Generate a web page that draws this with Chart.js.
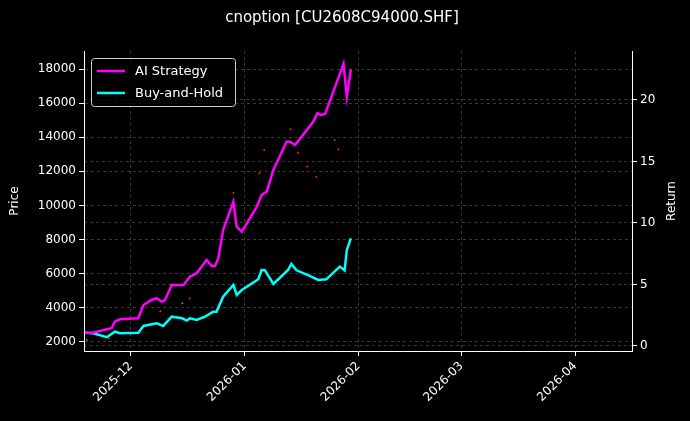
<!DOCTYPE html>
<html>
<head>
<meta charset="utf-8">
<script src="https://cdn.jsdelivr.net/npm/chart.js@4"></script>
<style>
html, body { margin: 0; padding: 0; background: #000; }
#wrap { width: 690px; height: 421px; }
</style>
</head>
<body>
<div id="wrap"><canvas id="graphe"></canvas></div>
<script>
// x = jours depuis 2025-12-01
const monthTicks = [0, 31, 62, 90, 121];
const monthLabels = ['2025-12', '2026-01', '2026-02', '2026-03', '2026-04'];

const aiDays = [-12.5, -10.3, -6.6, -5.3, -4.4, -3.0, 2.0, 3.4, 5.6, 7.0, 8.4, 9.3, 11.1, 14.3, 16.1, 17.9, 20.6, 22.0, 22.9, 23.8, 25.1, 27.9, 28.8, 30.2, 34.3, 35.6, 37.0, 38.8, 42.4, 43.3, 44.7, 49.7, 50.8, 51.7, 52.9, 57.9, 58.8, 59.9];
const aiReturn = [1.08, 1.08, 1.36, 1.44, 1.98, 2.17, 2.25, 3.33, 3.74, 3.88, 3.60, 3.74, 4.96, 4.96, 5.64, 5.91, 6.99, 6.50, 6.50, 7.13, 9.43, 11.73, 9.70, 9.29, 11.33, 12.28, 12.55, 14.31, 16.61, 16.61, 16.34, 18.24, 18.92, 18.78, 18.86, 22.93, 20.27, 22.5];

const bhDays = [-12.5, -10.3, -6.6, -4.4, -3.0, 2.0, 3.4, 7.0, 8.8, 11.1, 13.9, 15.2, 16.1, 17.9, 20.2, 22.4, 23.3, 25.1, 27.9, 28.8, 30.2, 34.7, 35.6, 36.5, 38.8, 42.8, 43.7, 45.1, 48.7, 51.0, 53.2, 56.9, 58.2, 58.8, 59.9];
const bhReturn = [1.08, 1.03, 0.71, 1.16, 1.03, 1.08, 1.63, 1.84, 1.63, 2.38, 2.25, 2.06, 2.25, 2.11, 2.38, 2.79, 2.79, 4.01, 4.96, 4.15, 4.55, 5.42, 6.18, 6.15, 5.04, 6.18, 6.67, 6.15, 5.69, 5.37, 5.42, 6.45, 6.15, 7.80, 8.75];

const priceDays = [-12.0, -6.0, 8.0, 14.0, 16.0, 27.9, 35.0, 36.3, 43.5, 45.5, 48.0, 50.5, 55.5, 56.5];
const priceValues = [2120, 2220, 3800, 4270, 4550, 10750, 11890, 13250, 14470, 13090, 12280, 11690, 13840, 13300];
const priceColors = ['#ff2020', '#ff2020', '#ff2020', '#20c040', '#ff2020', '#ff2020', '#ff2020', '#ff2020', '#ff2020', '#ff2020', '#ff2020', '#ff2020', '#ff2020', '#ff2020'];

const pts = (xs, ys) => xs.map((x, i) => ({ x: x, y: ys[i] }));
const gridColor = 'rgba(160,160,160,0.35)';
const font = { family: 'DejaVu Sans', size: 12 };

// légende dans la zone du graphique + titre de l'axe de droite
const insideLegend = {
    id: 'insideLegend',
    afterDraw(chart) {
        const ctx = chart.ctx;
        const a = chart.chartArea;
        const items = chart.data.datasets.filter(d => d.showInLegend);
        const x0 = a.left + 7, y0 = a.top + 7;
        ctx.save();
        ctx.font = '13px DejaVu Sans';
        const w = 144, h = 48;
        ctx.fillStyle = 'rgba(0,0,0,0.8)';
        ctx.strokeStyle = '#cccccc';
        ctx.lineWidth = 1;
        ctx.beginPath();
        ctx.roundRect(x0 + 0.5, y0 + 0.5, w, h, 3);
        ctx.fill();
        ctx.stroke();
        items.forEach((d, i) => {
            const yy = y0 + 13 + i * 22;
            ctx.strokeStyle = d.borderColor;
            ctx.lineWidth = 2.5;
            ctx.beginPath();
            ctx.moveTo(x0 + 6, yy);
            ctx.lineTo(x0 + 34, yy);
            ctx.stroke();
            ctx.fillStyle = '#ffffff';
            ctx.textBaseline = 'middle';
            ctx.fillText(d.label, x0 + 44, yy + 1);
        });
        // Return
        ctx.font = '12px DejaVu Sans';
        ctx.translate(672, (a.top + a.bottom) / 2);
        ctx.rotate(-Math.PI / 2);
        ctx.textAlign = 'center';
        ctx.fillText('Return', 0, 0);
        ctx.restore();
    }
};

new Chart(document.getElementById('graphe').getContext('2d'), {
    type: 'scatter',
    data: {
        datasets: [{
            label: 'Price',
            data: pts(priceDays, priceValues),
            yAxisID: 'y',
            pointRadius: 1,
            pointBackgroundColor: priceColors,
            pointBorderWidth: 0,
            showLine: false
        }, {
            label: 'AI Strategy',
            showInLegend: true,
            data: pts(aiDays, aiReturn),
            yAxisID: 'y1',
            borderColor: '#ff00ff',
            borderWidth: 2.5,
            pointRadius: 0,
            showLine: true
        }, {
            label: 'Buy-and-Hold',
            showInLegend: true,
            data: pts(bhDays, bhReturn),
            yAxisID: 'y1',
            borderColor: '#00ffff',
            borderWidth: 2.5,
            pointRadius: 0,
            showLine: true
        }]
    },
    options: {
        responsive: true,
        maintainAspectRatio: false,
        animation: false,
        layout: { padding: { left: 4, right: 10, top: 0, bottom: 0 } },
        plugins: {
            legend: { display: false },
            tooltip: { enabled: false },
            title: {
                display: true,
                text: 'cnoption [CU2608C94000.SHF]',
                color: '#ffffff',
                font: { family: 'DejaVu Sans', size: 15, weight: 'normal' },
                padding: { top: 9, bottom: 24 }
            }
        },
        scales: {
            x: {
                type: 'linear',
                min: -12.8,
                max: 136.5,
                afterBuildTicks: s => { s.ticks = monthTicks.map(v => ({ value: v })); },
                afterFit: s => { s.height = 70; },
                ticks: {
                    color: '#ffffff',
                    font: font,
                    maxRotation: 45,
                    minRotation: 45,
                    callback: v => monthLabels[monthTicks.indexOf(v)]
                },
                grid: { color: gridColor, tickColor: '#ffffff', tickLength: 5 },
                border: { color: '#ffffff', dash: [3, 3] }
            },
            y: {
                position: 'left',
                min: 1472,
                max: 19055,
                afterBuildTicks: s => { s.ticks = [2000, 4000, 6000, 8000, 10000, 12000, 14000, 16000, 18000].map(v => ({ value: v })); },
                afterFit: s => { s.width = 80; },
                ticks: { color: '#ffffff', font: font, callback: v => String(v) },
                title: { display: true, text: 'Price', color: '#ffffff', font: font },
                grid: { color: gridColor, tickColor: '#ffffff', tickLength: 5 },
                border: { color: '#ffffff', dash: [3, 3] }
            },
            y1: {
                position: 'right',
                min: -0.41,
                max: 23.98,
                afterBuildTicks: s => { s.ticks = [0, 5, 10, 15, 20].map(v => ({ value: v })); },
                afterFit: s => { s.width = 48; },
                ticks: { color: '#ffffff', font: font },
                grid: { color: gridColor, tickColor: '#ffffff', tickLength: 5 },
                border: { color: '#ffffff', dash: [3, 3] }
            }
        }
    },
    plugins: [insideLegend]
});
</script>
</body>
</html>
